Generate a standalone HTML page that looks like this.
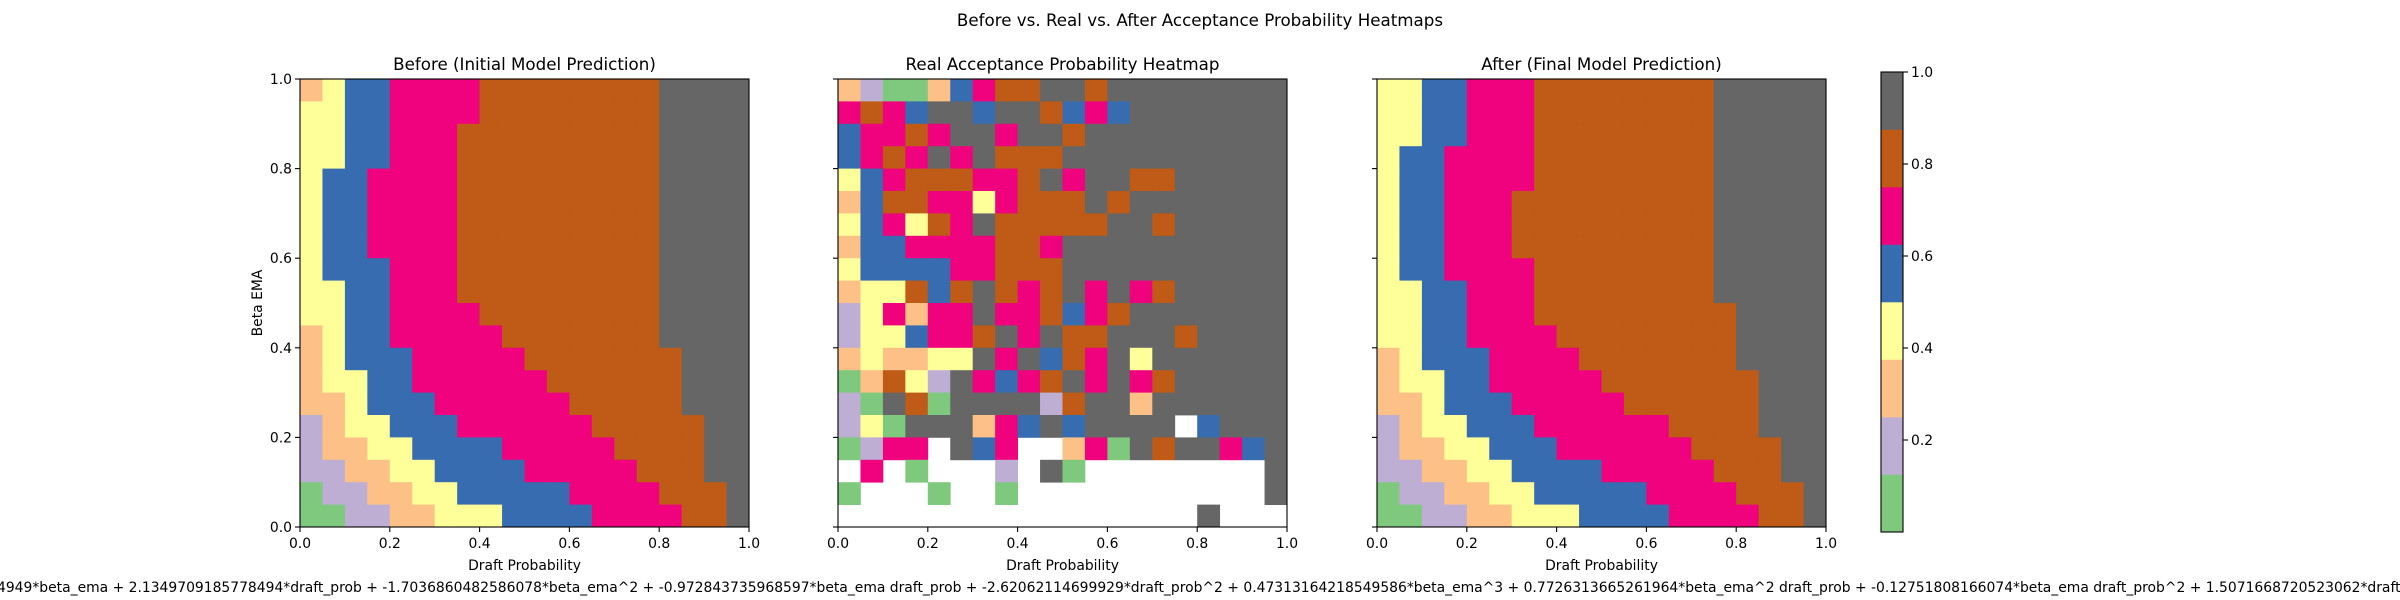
<!DOCTYPE html>
<html><head><meta charset="utf-8">
<style>
html,body{margin:0;padding:0;background:#fff;}
svg{display:block;font-family:"DejaVu Sans","Liberation Sans",sans-serif;}
</style></head>
<body>
<svg id="fig" xmlns="http://www.w3.org/2000/svg" width="2400" height="600" viewBox="0 0 2400 600">
<rect width="2400" height="600" fill="#fff"/>
<text x="1200" y="26" font-size="16.7" text-anchor="middle">Before vs. Real vs. After Acceptance Probability Heatmaps</text>
<g id="panels"></g>
<g id="cbar"></g>
<text x="-3" y="592" font-size="13.9" xml:space="preserve">4949*beta_ema + 2.1349709185778494*draft_prob + -1.7036860482586078*beta_ema^2 + -0.972843735968597*beta_ema draft_prob + -2.62062114699929*draft_prob^2 + 0.47313164218549586*beta_ema^3 + 0.7726313665261964*beta_ema^2 draft_prob + -0.12751808166074*beta_ema draft_prob^2 + 1.5071668720523062*draft_prob^3</text>
</svg>
<script>
const xTicks = [0, 0.2, 0.4, 0.6, 0.8, 1.0];
const xTickLabels = ["0.0", "0.2", "0.4", "0.6", "0.8", "1.0"];
const yTicks = [0, 0.2, 0.4, 0.6, 0.8, 1.0];
const yTickLabels = ["0.0", "0.2", "0.4", "0.6", "0.8", "1.0"];
const cbarTicks = [0.2, 0.4, 0.6, 0.8, 1.0];
const cbarTickLabels = ["0.2", "0.4", "0.6", "0.8", "1.0"];
const panelTitles = ["Before (Initial Model Prediction)", "Real Acceptance Probability Heatmap", "After (Final Model Prediction)"];

// rows listed from top (beta_ema = 1.0) to bottom (beta_ema = 0.0); columns draft_prob 0 -> 1
const beforeValues = [
[.31,.44,.56,.56,.69,.69,.69,.69,.81,.81,.81,.81,.81,.81,.81,.81,.94,.94,.94,.94],
[.44,.44,.56,.56,.69,.69,.69,.69,.81,.81,.81,.81,.81,.81,.81,.81,.94,.94,.94,.94],
[.44,.44,.56,.56,.69,.69,.69,.81,.81,.81,.81,.81,.81,.81,.81,.81,.94,.94,.94,.94],
[.44,.44,.56,.56,.69,.69,.69,.81,.81,.81,.81,.81,.81,.81,.81,.81,.94,.94,.94,.94],
[.44,.56,.56,.69,.69,.69,.69,.81,.81,.81,.81,.81,.81,.81,.81,.81,.94,.94,.94,.94],
[.44,.56,.56,.69,.69,.69,.69,.81,.81,.81,.81,.81,.81,.81,.81,.81,.94,.94,.94,.94],
[.44,.56,.56,.69,.69,.69,.69,.81,.81,.81,.81,.81,.81,.81,.81,.81,.94,.94,.94,.94],
[.44,.56,.56,.69,.69,.69,.69,.81,.81,.81,.81,.81,.81,.81,.81,.81,.94,.94,.94,.94],
[.44,.56,.56,.56,.69,.69,.69,.81,.81,.81,.81,.81,.81,.81,.81,.81,.94,.94,.94,.94],
[.44,.44,.56,.56,.69,.69,.69,.81,.81,.81,.81,.81,.81,.81,.81,.81,.94,.94,.94,.94],
[.44,.44,.56,.56,.69,.69,.69,.69,.81,.81,.81,.81,.81,.81,.81,.81,.94,.94,.94,.94],
[.31,.44,.56,.56,.69,.69,.69,.69,.69,.81,.81,.81,.81,.81,.81,.81,.94,.94,.94,.94],
[.31,.44,.56,.56,.56,.69,.69,.69,.69,.69,.81,.81,.81,.81,.81,.81,.81,.94,.94,.94],
[.31,.44,.44,.56,.56,.69,.69,.69,.69,.69,.69,.81,.81,.81,.81,.81,.81,.94,.94,.94],
[.31,.31,.44,.56,.56,.56,.69,.69,.69,.69,.69,.69,.81,.81,.81,.81,.81,.94,.94,.94],
[.19,.31,.44,.44,.56,.56,.56,.69,.69,.69,.69,.69,.69,.81,.81,.81,.81,.81,.94,.94],
[.19,.31,.31,.44,.44,.56,.56,.56,.56,.69,.69,.69,.69,.69,.81,.81,.81,.81,.94,.94],
[.19,.19,.31,.31,.44,.44,.56,.56,.56,.56,.69,.69,.69,.69,.69,.81,.81,.81,.94,.94],
[.06,.19,.19,.31,.31,.44,.44,.56,.56,.56,.56,.56,.69,.69,.69,.69,.81,.81,.81,.94],
[.06,.06,.19,.19,.31,.31,.44,.44,.44,.56,.56,.56,.56,.69,.69,.69,.69,.81,.81,.94]
];

const realValues = [
[.31,.19,.06,.06,.31,.56,.69,.81,.81,.94,.94,.81,.94,.94,.94,.94,.94,.94,.94,.94],
[.69,.81,.69,.56,.94,.94,.56,.94,.94,.81,.56,.69,.56,.94,.94,.94,.94,.94,.94,.94],
[.56,.69,.69,.81,.69,.94,.94,.69,.94,.94,.81,.94,.94,.94,.94,.94,.94,.94,.94,.94],
[.56,.69,.81,.69,.94,.69,.94,.81,.81,.81,.94,.94,.94,.94,.94,.94,.94,.94,.94,.94],
[.44,.56,.69,.81,.81,.81,.69,.69,.81,.94,.69,.94,.94,.81,.81,.94,.94,.94,.94,.94],
[.31,.56,.81,.81,.69,.69,.44,.69,.81,.81,.81,.94,.81,.94,.94,.94,.94,.94,.94,.94],
[.44,.56,.69,.44,.81,.69,.94,.81,.81,.81,.81,.81,.94,.94,.81,.94,.94,.94,.94,.94],
[.31,.56,.56,.69,.69,.69,.69,.81,.81,.69,.94,.94,.94,.94,.94,.94,.94,.94,.94,.94],
[.44,.56,.56,.56,.56,.69,.69,.81,.81,.81,.94,.94,.94,.94,.94,.94,.94,.94,.94,.94],
[.31,.44,.44,.81,.56,.81,.94,.81,.69,.81,.94,.69,.94,.69,.81,.94,.94,.94,.94,.94],
[.19,.44,.69,.31,.69,.69,.94,.69,.69,.81,.56,.69,.81,.94,.94,.94,.94,.94,.94,.94],
[.19,.44,.44,.56,.69,.69,.81,.94,.69,.94,.81,.81,.94,.94,.94,.81,.94,.94,.94,.94],
[.31,.44,.31,.31,.44,.44,.94,.69,.94,.56,.81,.69,.94,.44,.94,.94,.94,.94,.94,.94],
[.06,.31,.81,.44,.19,.94,.69,.56,.69,.81,.94,.69,.94,.69,.81,.94,.94,.94,.94,.94],
[.19,.06,.94,.81,.06,.94,.94,.94,.94,.19,.81,.94,.94,.31,.94,.94,.94,.94,.94,.94],
[.19,.44,.06,.94,.94,.94,.31,.69,.56,.94,.56,.94,.94,.94,.94,null,.56,.94,.94,.94],
[.06,.19,.69,.69,null,.94,.56,.69,null,null,.31,.69,.06,.94,.81,.94,.94,.69,.56,.94],
[null,.69,null,.06,null,null,null,.19,null,.94,.06,null,null,null,null,null,null,null,null,.94],
[.06,null,null,null,.06,null,null,.06,null,null,null,null,null,null,null,null,null,null,null,.94],
[null,null,null,null,null,null,null,null,null,null,null,null,null,null,null,null,.94,null,null,null]
];

const afterValues = [
[.44,.44,.56,.56,.69,.69,.69,.81,.81,.81,.81,.81,.81,.81,.81,.94,.94,.94,.94,.94],
[.44,.44,.56,.56,.69,.69,.69,.81,.81,.81,.81,.81,.81,.81,.81,.94,.94,.94,.94,.94],
[.44,.44,.56,.56,.69,.69,.69,.81,.81,.81,.81,.81,.81,.81,.81,.94,.94,.94,.94,.94],
[.44,.56,.56,.69,.69,.69,.69,.81,.81,.81,.81,.81,.81,.81,.81,.94,.94,.94,.94,.94],
[.44,.56,.56,.69,.69,.69,.69,.81,.81,.81,.81,.81,.81,.81,.81,.94,.94,.94,.94,.94],
[.44,.56,.56,.69,.69,.69,.81,.81,.81,.81,.81,.81,.81,.81,.81,.94,.94,.94,.94,.94],
[.44,.56,.56,.69,.69,.69,.81,.81,.81,.81,.81,.81,.81,.81,.81,.94,.94,.94,.94,.94],
[.44,.56,.56,.69,.69,.69,.81,.81,.81,.81,.81,.81,.81,.81,.81,.94,.94,.94,.94,.94],
[.44,.56,.56,.69,.69,.69,.69,.81,.81,.81,.81,.81,.81,.81,.81,.94,.94,.94,.94,.94],
[.44,.44,.56,.56,.69,.69,.69,.81,.81,.81,.81,.81,.81,.81,.81,.94,.94,.94,.94,.94],
[.44,.44,.56,.56,.69,.69,.69,.81,.81,.81,.81,.81,.81,.81,.81,.81,.94,.94,.94,.94],
[.44,.44,.56,.56,.69,.69,.69,.69,.81,.81,.81,.81,.81,.81,.81,.81,.94,.94,.94,.94],
[.31,.44,.56,.56,.56,.69,.69,.69,.69,.81,.81,.81,.81,.81,.81,.81,.94,.94,.94,.94],
[.31,.44,.44,.56,.56,.69,.69,.69,.69,.69,.81,.81,.81,.81,.81,.81,.81,.94,.94,.94],
[.31,.31,.44,.56,.56,.56,.69,.69,.69,.69,.69,.81,.81,.81,.81,.81,.81,.94,.94,.94],
[.19,.31,.44,.44,.56,.56,.56,.69,.69,.69,.69,.69,.69,.81,.81,.81,.81,.94,.94,.94],
[.19,.31,.31,.44,.44,.56,.56,.56,.69,.69,.69,.69,.69,.69,.81,.81,.81,.81,.94,.94],
[.19,.19,.31,.31,.44,.44,.56,.56,.56,.56,.69,.69,.69,.69,.69,.81,.81,.81,.94,.94],
[.06,.19,.19,.31,.31,.44,.44,.56,.56,.56,.56,.56,.69,.69,.69,.69,.81,.81,.81,.94],
[.06,.06,.19,.19,.31,.31,.44,.44,.44,.56,.56,.56,.56,.69,.69,.69,.69,.81,.81,.94]
];

const NS = "http://www.w3.org/2000/svg";
const ACCENT = ["#7fc97f","#beaed4","#fdc086","#ffff99","#386cb0","#f0027f","#bf5b17","#666666"];
const PANEL_X = [300, 838, 1377];
const PW = 449, PH = 448, PY = 79;
const datasets = [beforeValues, realValues, afterValues];
const panelNames = ["before-heatmap", "real-heatmap", "after-heatmap"];

function colorFor(v) {
  if (v === null || v === undefined || isNaN(v)) return null;
  const i = Math.max(0, Math.min(7, Math.floor(v * 8)));
  return ACCENT[i];
}
function mk(tag, attrs, parent) {
  const e = document.createElementNS(NS, tag);
  for (const k in attrs) e.setAttribute(k, attrs[k]);
  if (parent) parent.appendChild(e);
  return e;
}

const panelsG = document.getElementById("panels");
datasets.forEach((vals, p) => {
  const x0 = PANEL_X[p];
  const xScale = v => x0 + v * PW;
  const yScale = v => PY + (1 - v) * PH;
  const g = mk("g", {}, panelsG);
  
  
  const nRows = vals.length;
  vals.forEach((row, r) => {
    const nCols = row.length;
    row.forEach((v, c) => {
      const col = colorFor(v);
      if (!col) return;
      const xa = xScale(c / nCols), xb = xScale((c + 1) / nCols);
      const ya = yScale(1 - r / nRows), yb = yScale(1 - (r + 1) / nRows);
      const rect = mk("rect", {x: xa, y: ya, width: xb - xa + 0.4, height: yb - ya + 0.4, fill: col}, g);
      
      
    });
  });
  // frame
  const frame = mk("rect", {x: x0, y: PY, width: PW, height: PH, fill: "none", stroke: "#000", "stroke-width": 1.1}, g);
  
  
  // x ticks
  xTicks.forEach((t, i) => {
    const x = xScale(t);
    const tk = mk("line", {x1: x, x2: x, y1: PY + PH, y2: PY + PH + 5, stroke: "#000", "stroke-width": 1.1}, g);
    
    
    const lb = mk("text", {x: x, y: PY + PH + 21, "font-size": 13.9, "text-anchor": "middle"}, g);
    lb.textContent = xTickLabels[i];
    
    
  });
  // y ticks
  yTicks.forEach((t, i) => {
    const y = yScale(t);
    const tk = mk("line", {x1: x0 - 5, x2: x0, y1: y, y2: y, stroke: "#000", "stroke-width": 1.1}, g);
    
    
    if (p === 0) {
      const lb = mk("text", {x: x0 - 8, y: y + 5, "font-size": 13.9, "text-anchor": "end"}, g);
      lb.textContent = yTickLabels[i];
      
      
    }
  });
  const xl = mk("text", {x: x0 + PW / 2, y: PY + PH + 43, "font-size": 13.9, "text-anchor": "middle"}, g);
  xl.textContent = "Draft Probability";
  
  
  const tt = mk("text", {x: x0 + PW / 2, y: PY - 9, "font-size": 16.7, "text-anchor": "middle"}, g);
  tt.textContent = panelTitles[p];
  
  
  if (p === 0) {
    const yl = mk("text", {x: 0, y: 0, "font-size": 13.9, "text-anchor": "middle", transform: "translate(262," + (PY + PH / 2) + ") rotate(-90)"}, g);
    yl.textContent = "Beta EMA";
    
    
  }
});

// colorbar
const cb = document.getElementById("cbar");


const CBX = 1881, CBW = 22, CBY = 72, CBH = 460;
const cScale = v => CBY + (1 - v) * CBH;
ACCENT.forEach((col, i) => {
  const r = mk("rect", {x: CBX, y: cScale((i + 1) / 8), width: CBW, height: CBH / 8 + 0.3, fill: col}, cb);
  
  
});
const cbf = mk("rect", {x: CBX, y: CBY, width: CBW, height: CBH, fill: "none", stroke: "#000", "stroke-width": 1.1}, cb);


cbarTicks.forEach((t, i) => {
  const y = cScale(t);
  const tk = mk("line", {x1: CBX + CBW, x2: CBX + CBW + 5, y1: y, y2: y, stroke: "#000", "stroke-width": 1.1}, cb);
  
  
  const lb = mk("text", {x: CBX + CBW + 8, y: y + 5, "font-size": 13.9}, cb);
  lb.textContent = cbarTickLabels[i];
  
  
});
</script>
</body></html>
